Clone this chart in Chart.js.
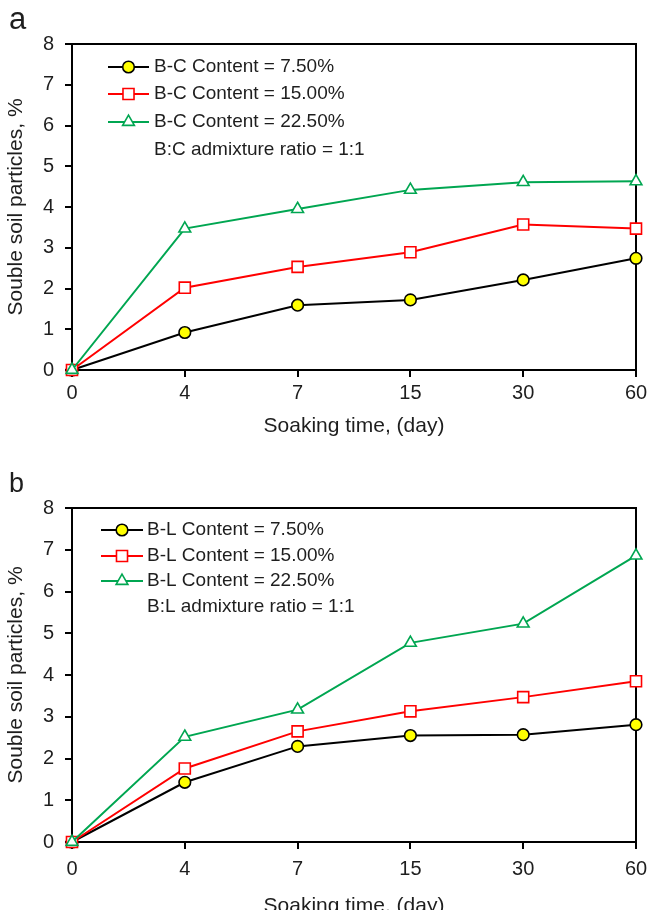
<!DOCTYPE html>
<html>
<head>
<meta charset="utf-8">
<script src="https://cdn.jsdelivr.net/npm/chart.js@4/dist/chart.umd.min.js"></script>
<style>
  html, body { margin: 0; padding: 0; background: #fff; width: 649px; height: 910px; overflow: hidden; }
  .panel { position: absolute; left: 0; width: 649px; }
  #wrapA { top: 0; height: 455px; }
  #wrapB { top: 455px; height: 465px; }
</style>
</head>
<body>
<div class="panel" id="wrapA"><canvas id="chartA" width="649" height="455"></canvas></div>
<div class="panel" id="wrapB"><canvas id="chartB" width="649" height="465"></canvas></div>
<script>
//* DATOS
const soakDays = ['0', '4', '7', '15', '30', '60'];

const labelsBC = ['B-C Content = 7.50%', 'B-C Content = 15.00%', 'B-C Content = 22.50%'];
const noteBC = 'B:C admixture ratio = 1:1';
const bc750 = [0, 0.92, 1.59, 1.72, 2.21, 2.74];
const bc1500 = [0, 2.02, 2.53, 2.89, 3.57, 3.47];
const bc2250 = [0, 3.47, 3.95, 4.42, 4.61, 4.63];

const labelsBL = ['B-L Content = 7.50%', 'B-L Content = 15.00%', 'B-L Content = 22.50%'];
const noteBL = 'B:L admixture ratio = 1:1';
const bl750 = [0, 1.43, 2.29, 2.55, 2.57, 2.81];
const bl1500 = [0, 1.76, 2.65, 3.13, 3.47, 3.85];
const bl2250 = [0, 2.52, 3.17, 4.77, 5.23, 6.86];

const xTitle = 'Soaking time, (day)';
const yTitle = 'Souble soil particles, %';

const FONT = "'Liberation Sans', Arial, sans-serif";
const TEXT = '#1e1e1e';
const GREEN = '#00a651';

// marco superior y derecho
const framePlugin = {
    id: 'frame',
    beforeDatasetsDraw(chart) {
        const { ctx, chartArea: a } = chart;
        ctx.save();
        ctx.strokeStyle = '#000';
        ctx.lineWidth = 2;
        ctx.beginPath();
        ctx.moveTo(a.left, a.top);
        ctx.lineTo(a.right, a.top);
        ctx.lineTo(a.right, a.bottom);
        ctx.stroke();
        ctx.restore();
    }
};

// leyenda dentro del área + letra del panel
const panelLegend = {
    id: 'panelLegend',
    afterDraw(chart, args, opts) {
        const { ctx, chartArea: a } = chart;
        ctx.save();
        ctx.fillStyle = TEXT;
        ctx.font = opts.letterSize + 'px ' + FONT;
        ctx.textAlign = 'left';
        ctx.textBaseline = 'alphabetic';
        ctx.fillText(opts.letter, opts.letterX, opts.letterY);

        ctx.font = '19px ' + FONT;
        ctx.textBaseline = 'middle';
        chart.data.datasets.forEach((ds, i) => {
            const y = a.top + opts.rows[i];
            const x0 = a.left + opts.lineStart;
            const x1 = a.left + opts.lineEnd;
            ctx.strokeStyle = ds.borderColor;
            ctx.lineWidth = ds.borderWidth;
            ctx.beginPath();
            ctx.moveTo(x0, y);
            ctx.lineTo(x1, y);
            ctx.stroke();
            ctx.fillStyle = ds.pointBackgroundColor;
            ctx.strokeStyle = ds.pointBorderColor;
            ctx.lineWidth = ds.pointBorderWidth;
            Chart.helpers.drawPoint(ctx, {
                pointStyle: ds.pointStyle,
                radius: ds.pointRadius,
                borderWidth: ds.pointBorderWidth,
                rotation: 0
            }, (x0 + x1) / 2, y);
            ctx.fillStyle = TEXT;
            ctx.fillText(ds.label, a.left + opts.textStart, y);
        });
        ctx.fillStyle = TEXT;
        ctx.fillText(opts.note, a.left + opts.textStart, a.top + opts.rows[3]);
        ctx.restore();
    }
};

function series(labels, v1, v2, v3) {
    const common = { fill: false, tension: 0, borderWidth: 2, pointBorderWidth: 1.6, clip: false };
    return [
        { ...common, label: labels[0], data: v1, order: 3,
          borderColor: '#000', pointBorderColor: '#000', pointBackgroundColor: '#ffff00',
          pointStyle: 'circle', pointRadius: 5.8 },
        { ...common, label: labels[1], data: v2, order: 2,
          borderColor: '#ff0000', pointBorderColor: '#ff0000', pointBackgroundColor: '#fff',
          pointStyle: 'rect', pointRadius: 7.8 },
        { ...common, label: labels[2], data: v3, order: 1,
          borderColor: GREEN, pointBorderColor: GREEN, pointBackgroundColor: '#fff',
          pointStyle: 'triangle', pointRadius: 6.8 }
    ];
}

function makeOptions(cfg) {
    return {
        responsive: false,
        animation: false,
        devicePixelRatio: 1,
        layout: { padding: { top: cfg.top, right: 13, left: 0, bottom: 0 } },
        scales: {
            x: {
                type: 'category',
                offset: false,
                grid: { drawOnChartArea: false, drawTicks: true, tickLength: 7, color: '#000', lineWidth: 2 },
                border: { display: true, color: '#000', width: 2 },
                ticks: { color: TEXT, font: { family: FONT, size: 20 }, padding: cfg.tickPad, maxRotation: 0, autoSkip: false },
                title: { display: true, text: xTitle, color: TEXT, font: { family: FONT, size: 21 },
                         padding: { top: 0, bottom: cfg.titlePad } },
                afterFit: s => { s.height = cfg.xHeight; s.paddingLeft = 0; s.paddingRight = 0; }
            },
            y: {
                min: 0,
                max: 8,
                grid: { drawOnChartArea: false, drawTicks: true, tickLength: 7, color: '#000', lineWidth: 2 },
                border: { display: true, color: '#000', width: 2 },
                ticks: { stepSize: 1, color: TEXT, font: { family: FONT, size: 20 }, padding: 11 },
                title: { display: true, text: yTitle, color: TEXT, font: { family: FONT, size: 21 },
                         padding: { top: 4, bottom: 0 } },
                afterFit: s => { s.width = 72; s.paddingTop = 0; s.paddingBottom = 0; }
            }
        },
        plugins: {
            legend: { display: false },
            tooltip: { enabled: false },
            panelLegend: cfg.legend
        }
    };
}

new Chart(document.getElementById('chartA'), {
    type: 'line',
    data: { labels: soakDays, datasets: series(labelsBC, bc750, bc1500, bc2250) },
    options: makeOptions({
        top: 44, xHeight: 85, tickPad: 4, titlePad: 16,
        legend: { letter: 'a', letterSize: 31, letterX: 9, letterY: 29,
                  lineStart: 36, lineEnd: 77, textStart: 82, rows: [23, 50, 78, 106], note: noteBC }
    }),
    plugins: [framePlugin, panelLegend]
});

new Chart(document.getElementById('chartB'), {
    type: 'line',
    data: { labels: soakDays, datasets: series(labelsBL, bl750, bl1500, bl2250) },
    options: makeOptions({
        top: 53, xHeight: 78, tickPad: 8, titlePad: 1,
        legend: { letter: 'b', letterSize: 27, letterX: 9, letterY: 37,
                  lineStart: 29, lineEnd: 71, textStart: 75, rows: [22, 48, 73, 99], note: noteBL }
    }),
    plugins: [framePlugin, panelLegend]
});
</script>
</body>
</html>
